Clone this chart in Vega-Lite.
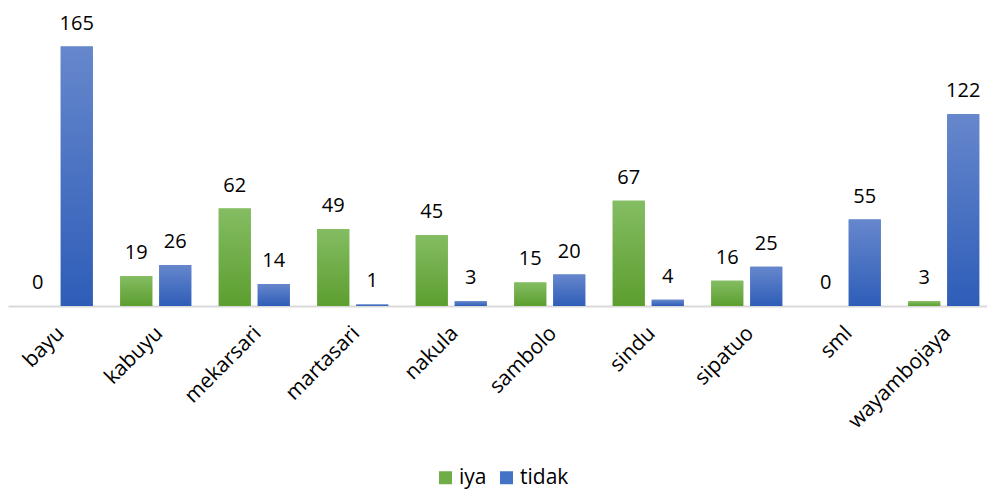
{
  "$schema": "https://vega.github.io/schema/vega-lite/v6.json",
  "width": 985,
  "height": 283,
  "autosize": {"type": "none"},
  "padding": {"left": 8, "top": 23, "right": 0, "bottom": 185},
  "background": "white",
  "config": {
    "view": {"stroke": null},
    "font": "Open Sans",
    "text": {"font": "Open Sans"}
  },
  "data": {
    "values": [
      {"desa": "bayu", "jawaban": "iya", "jumlah": 0},
      {"desa": "bayu", "jawaban": "tidak", "jumlah": 165},
      {"desa": "kabuyu", "jawaban": "iya", "jumlah": 19},
      {"desa": "kabuyu", "jawaban": "tidak", "jumlah": 26},
      {"desa": "mekarsari", "jawaban": "iya", "jumlah": 62},
      {"desa": "mekarsari", "jawaban": "tidak", "jumlah": 14},
      {"desa": "martasari", "jawaban": "iya", "jumlah": 49},
      {"desa": "martasari", "jawaban": "tidak", "jumlah": 1},
      {"desa": "nakula", "jawaban": "iya", "jumlah": 45},
      {"desa": "nakula", "jawaban": "tidak", "jumlah": 3},
      {"desa": "sambolo", "jawaban": "iya", "jumlah": 15},
      {"desa": "sambolo", "jawaban": "tidak", "jumlah": 20},
      {"desa": "sindu", "jawaban": "iya", "jumlah": 67},
      {"desa": "sindu", "jawaban": "tidak", "jumlah": 4},
      {"desa": "sipatuo", "jawaban": "iya", "jumlah": 16},
      {"desa": "sipatuo", "jawaban": "tidak", "jumlah": 25},
      {"desa": "sml", "jawaban": "iya", "jumlah": 0},
      {"desa": "sml", "jawaban": "tidak", "jumlah": 55},
      {"desa": "wayambojaya", "jawaban": "iya", "jumlah": 3},
      {"desa": "wayambojaya", "jawaban": "tidak", "jumlah": 122}
    ]
  },
  "encoding": {
    "x": {
      "field": "desa",
      "type": "nominal",
      "sort": null,
      "scale": {"paddingInner": 0.279, "paddingOuter": 0.1396},
      "axis": {
        "title": null,
        "labelAngle": -45,
        "labelFontSize": 21,
        "labelColor": "#000000",
        "labelFont": "Open Sans",
        "labelPadding": 16,
        "labelOffset": -4,
        "ticks": false,
        "domainColor": "#d9d9d9",
        "domainWidth": 2
      }
    },
    "xOffset": {
      "field": "jawaban",
      "type": "nominal",
      "scale": {"paddingInner": 0.179, "paddingOuter": 0}
    },
    "y": {
      "field": "jumlah",
      "type": "quantitative",
      "scale": {"domain": [0, 180], "nice": false},
      "axis": null
    }
  },
  "layer": [
    {
      "mark": {"type": "bar"},
      "encoding": {
        "color": {
          "field": "jawaban",
          "type": "nominal",
          "scale": {"domain": ["iya", "tidak"], "range": ["#70ad47", "#4472c4"]},
          "legend": {
            "title": null,
            "orient": "none",
            "direction": "horizontal",
            "legendX": 427,
            "legendY": 444,
            "symbolType": "square",
            "symbolSize": 169,
            "labelFontSize": 21,
            "labelOffset": 3,
            "labelColor": "#000000",
            "labelFont": "Open Sans",
            "columnPadding": 9,
            "symbolStrokeWidth": 0
          }
        }
      }
    },
    {
      "mark": {"type": "bar"},
      "encoding": {
        "fill": {
          "condition": {
            "test": "datum.jawaban === 'iya'",
            "value": {
              "gradient": "linear", "x1": 0, "y1": 0, "x2": 0, "y2": 1,
              "stops": [{"offset": 0, "color": "#84bd62"}, {"offset": 1, "color": "#5c9e2f"}]
            }
          },
          "value": {
            "gradient": "linear", "x1": 0, "y1": 0, "x2": 0, "y2": 1,
            "stops": [{"offset": 0, "color": "#6687cc"}, {"offset": 1, "color": "#2e5db8"}]
          }
        }
      }
    },
    {
      "mark": {"type": "text", "fontSize": 20, "dy": -17, "baseline": "alphabetic", "color": "#000000", "font": "Open Sans"},
      "encoding": {
        "text": {"field": "jumlah", "type": "quantitative"}
      }
    }
  ]
}
